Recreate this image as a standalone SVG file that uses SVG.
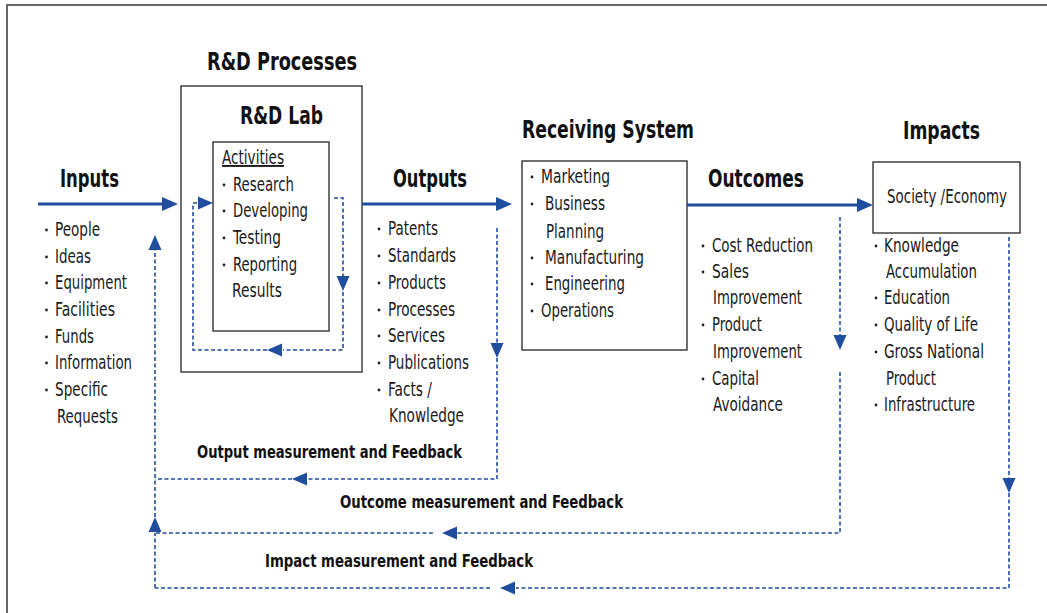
<svg xmlns="http://www.w3.org/2000/svg" xmlns:xlink="http://www.w3.org/1999/xlink" width="1047" height="613" viewBox="0 0 1047 613">
  <style>
    text { font-family: "DejaVu Sans Condensed", "Liberation Sans", sans-serif; font-stretch: condensed; fill: #111; }
    .h { font-size: 24px; font-weight: bold; }
    .fb { font-size: 17px; font-weight: bold; }
    .t { font-size: 19px; fill: #1a1a1a; }
    .dot { fill: #222; }
    .box { fill: #fff; stroke: #333; stroke-width: 1.4; }
    .frame { fill: none; stroke: #666; stroke-width: 2; }
    .flow { fill: none; stroke: #1f4e9e; stroke-width: 3; }
    .fbk { fill: none; stroke: #1f4e9e; stroke-width: 1.6; stroke-dasharray: 4 2.5; }
    .head { fill: #1f4e9e; }
  </style>
  <defs>
    <!-- arrowheads, tip at origin, pointing along +x -->
    <path id="ah" class="head" d="M0,0 L-16,-7 L-16,7 Z"/>
    <path id="ahs" class="head" d="M0,0 L-15,-6.5 L-15,6.5 Z"/>
    <!-- list bullet -->
    <circle id="bul" class="dot" r="1.4"/>
  </defs>

  <rect width="1047" height="613" fill="#fff"/>
  <path class="frame" d="M7,613 V5 H1047"/>

  <!-- R&D processes -->
  <g id="rd-processes">
    <text class="h" x="207" y="70" textLength="150" lengthAdjust="spacingAndGlyphs">R&amp;D Processes</text>
    <rect class="box" x="181" y="86" width="181" height="286"/>
    <text class="h" x="240" y="124" textLength="83" lengthAdjust="spacingAndGlyphs">R&amp;D Lab</text>
  </g>

  <g id="activities">
    <rect class="box" x="213" y="142" width="116" height="189"/>
    <text class="t" x="222" y="164" text-decoration="underline" textLength="62" lengthAdjust="spacingAndGlyphs">Activities</text>
    <use xlink:href="#bul" x="224" y="185"/>
    <text class="t" x="233" y="191" textLength="61" lengthAdjust="spacingAndGlyphs">Research</text>
    <use xlink:href="#bul" x="224" y="211"/>
    <text class="t" x="233" y="217" textLength="75" lengthAdjust="spacingAndGlyphs">Developing</text>
    <use xlink:href="#bul" x="224" y="238"/>
    <text class="t" x="233" y="244" textLength="48" lengthAdjust="spacingAndGlyphs">Testing</text>
    <use xlink:href="#bul" x="224" y="265"/>
    <text class="t" x="233" y="271" textLength="64" lengthAdjust="spacingAndGlyphs">Reporting</text>
    <text class="t" x="232" y="297" textLength="50" lengthAdjust="spacingAndGlyphs">Results</text>
  </g>

  <!-- inputs -->
  <g id="inputs">
    <text class="h" x="60" y="187" textLength="59" lengthAdjust="spacingAndGlyphs">Inputs</text>
    <use xlink:href="#bul" x="46.5" y="230"/>
    <text class="t" x="55" y="236" textLength="45" lengthAdjust="spacingAndGlyphs">People</text>
    <use xlink:href="#bul" x="46.5" y="257"/>
    <text class="t" x="55" y="263" textLength="36" lengthAdjust="spacingAndGlyphs">Ideas</text>
    <use xlink:href="#bul" x="46.5" y="283"/>
    <text class="t" x="55" y="289" textLength="72" lengthAdjust="spacingAndGlyphs">Equipment</text>
    <use xlink:href="#bul" x="46.5" y="310"/>
    <text class="t" x="55" y="316" textLength="60" lengthAdjust="spacingAndGlyphs">Facilities</text>
    <use xlink:href="#bul" x="46.5" y="337"/>
    <text class="t" x="55" y="343" textLength="39" lengthAdjust="spacingAndGlyphs">Funds</text>
    <use xlink:href="#bul" x="46.5" y="363"/>
    <text class="t" x="55" y="369" textLength="77" lengthAdjust="spacingAndGlyphs">Information</text>
    <use xlink:href="#bul" x="46.5" y="390"/>
    <text class="t" x="55" y="396" textLength="53" lengthAdjust="spacingAndGlyphs">Specific</text>
    <text class="t" x="57" y="423" textLength="61" lengthAdjust="spacingAndGlyphs">Requests</text>
  </g>

  <!-- outputs -->
  <g id="outputs">
    <text class="h" x="393" y="187" textLength="74" lengthAdjust="spacingAndGlyphs">Outputs</text>
    <use xlink:href="#bul" x="379" y="229"/>
    <text class="t" x="388" y="235" textLength="50" lengthAdjust="spacingAndGlyphs">Patents</text>
    <use xlink:href="#bul" x="379" y="256"/>
    <text class="t" x="388" y="262" textLength="68" lengthAdjust="spacingAndGlyphs">Standards</text>
    <use xlink:href="#bul" x="379" y="283"/>
    <text class="t" x="388" y="289" textLength="58" lengthAdjust="spacingAndGlyphs">Products</text>
    <use xlink:href="#bul" x="379" y="310"/>
    <text class="t" x="388" y="316" textLength="67" lengthAdjust="spacingAndGlyphs">Processes</text>
    <use xlink:href="#bul" x="379" y="336"/>
    <text class="t" x="388" y="342" textLength="57" lengthAdjust="spacingAndGlyphs">Services</text>
    <use xlink:href="#bul" x="379" y="363"/>
    <text class="t" x="388" y="369" textLength="81" lengthAdjust="spacingAndGlyphs">Publications</text>
    <use xlink:href="#bul" x="379" y="390"/>
    <text class="t" x="388" y="396" textLength="44" lengthAdjust="spacingAndGlyphs">Facts /</text>
    <text class="t" x="389" y="422" textLength="75" lengthAdjust="spacingAndGlyphs">Knowledge</text>
  </g>

  <!-- receiving system -->
  <g id="receiving-system">
    <text class="h" x="522" y="138" textLength="172" lengthAdjust="spacingAndGlyphs">Receiving System</text>
    <rect class="box" x="522" y="161" width="165" height="189"/>
    <use xlink:href="#bul" x="532" y="177"/>
    <text class="t" x="541" y="183" textLength="69" lengthAdjust="spacingAndGlyphs">Marketing</text>
    <use xlink:href="#bul" x="532" y="204"/>
    <text class="t" x="545" y="210" textLength="60" lengthAdjust="spacingAndGlyphs">Business</text>
    <text class="t" x="546" y="238" textLength="58" lengthAdjust="spacingAndGlyphs">Planning</text>
    <use xlink:href="#bul" x="532" y="258"/>
    <text class="t" x="545" y="264" textLength="99" lengthAdjust="spacingAndGlyphs">Manufacturing</text>
    <use xlink:href="#bul" x="532" y="284"/>
    <text class="t" x="545" y="290" textLength="80" lengthAdjust="spacingAndGlyphs">Engineering</text>
    <use xlink:href="#bul" x="532" y="311"/>
    <text class="t" x="541" y="317" textLength="73" lengthAdjust="spacingAndGlyphs">Operations</text>
  </g>

  <!-- outcomes -->
  <g id="outcomes">
    <text class="h" x="708" y="187" textLength="96" lengthAdjust="spacingAndGlyphs">Outcomes</text>
    <use xlink:href="#bul" x="703" y="246"/>
    <text class="t" x="712" y="252" textLength="101" lengthAdjust="spacingAndGlyphs">Cost Reduction</text>
    <use xlink:href="#bul" x="703" y="272"/>
    <text class="t" x="712" y="278" textLength="37" lengthAdjust="spacingAndGlyphs">Sales</text>
    <text class="t" x="713" y="304" textLength="89" lengthAdjust="spacingAndGlyphs">Improvement</text>
    <use xlink:href="#bul" x="703" y="325"/>
    <text class="t" x="712" y="331" textLength="50" lengthAdjust="spacingAndGlyphs">Product</text>
    <text class="t" x="713" y="358" textLength="89" lengthAdjust="spacingAndGlyphs">Improvement</text>
    <use xlink:href="#bul" x="703" y="379"/>
    <text class="t" x="712" y="385" textLength="47" lengthAdjust="spacingAndGlyphs">Capital</text>
    <text class="t" x="713" y="411" textLength="70" lengthAdjust="spacingAndGlyphs">Avoidance</text>
  </g>

  <!-- impacts -->
  <g id="impacts">
    <text class="h" x="903" y="139" textLength="77" lengthAdjust="spacingAndGlyphs">Impacts</text>
    <rect class="box" x="873" y="162" width="147" height="71"/>
    <text class="t" x="887" y="203" textLength="120" lengthAdjust="spacingAndGlyphs">Society /Economy</text>
    <use xlink:href="#bul" x="876" y="246"/>
    <text class="t" x="884" y="252" textLength="75" lengthAdjust="spacingAndGlyphs">Knowledge</text>
    <text class="t" x="886" y="278" textLength="91" lengthAdjust="spacingAndGlyphs">Accumulation</text>
    <use xlink:href="#bul" x="876" y="298"/>
    <text class="t" x="884" y="304" textLength="66" lengthAdjust="spacingAndGlyphs">Education</text>
    <use xlink:href="#bul" x="876" y="325"/>
    <text class="t" x="884" y="331" textLength="94" lengthAdjust="spacingAndGlyphs">Quality of Life</text>
    <use xlink:href="#bul" x="876" y="352"/>
    <text class="t" x="884" y="358" textLength="100" lengthAdjust="spacingAndGlyphs">Gross National</text>
    <text class="t" x="886" y="385" textLength="50" lengthAdjust="spacingAndGlyphs">Product</text>
    <use xlink:href="#bul" x="876" y="405"/>
    <text class="t" x="884" y="411" textLength="91" lengthAdjust="spacingAndGlyphs">Infrastructure</text>
  </g>

  <!-- feedback labels -->
  <g id="feedback-labels">
    <text class="fb" x="197" y="458" textLength="265" lengthAdjust="spacingAndGlyphs">Output measurement and Feedback</text>
    <text class="fb" x="340" y="508" textLength="283" lengthAdjust="spacingAndGlyphs">Outcome measurement and Feedback</text>
    <text class="fb" x="265" y="567" textLength="268" lengthAdjust="spacingAndGlyphs">Impact measurement and Feedback</text>
  </g>

  <!-- connectors -->
  <g id="connectors">
    <!-- main flow -->
    <path class="flow" d="M38,204 H163"/>
    <use xlink:href="#ah" transform="translate(178,204)"/>
    <path class="flow" d="M362,204 H497"/>
    <use xlink:href="#ah" transform="translate(512,204)"/>
    <path class="flow" d="M687,205 H858"/>
    <use xlink:href="#ah" transform="translate(873,205)"/>

    <!-- loop inside the lab -->
    <path class="fbk" d="M334,198 H343 V276"/>
    <use xlink:href="#ahs" transform="translate(343,291) rotate(90)"/>
    <path class="fbk" d="M343,292 V350 H283"/>
    <use xlink:href="#ahs" transform="translate(267,350) rotate(180)"/>
    <path class="fbk" d="M267,350 H193 V203 H198"/>
    <use xlink:href="#ahs" transform="translate(213,203)"/>

    <!-- output feedback -->
    <path class="fbk" d="M497,228 V343"/>
    <use xlink:href="#ahs" transform="translate(497,358) rotate(90)"/>
    <path class="fbk" d="M497,358 V479 H307"/>
    <use xlink:href="#ahs" transform="translate(292,479) rotate(180)"/>
    <path class="fbk" d="M292,479 H155"/>

    <!-- outcome feedback -->
    <path class="fbk" d="M840,217 V335"/>
    <use xlink:href="#ahs" transform="translate(840,350) rotate(90)"/>
    <path class="fbk" d="M840,372 V533 H457"/>
    <use xlink:href="#ahs" transform="translate(442,533) rotate(180)"/>
    <path class="fbk" d="M433,533 H155"/>

    <!-- impact feedback -->
    <path class="fbk" d="M1009,237 V478"/>
    <use xlink:href="#ahs" transform="translate(1009,493) rotate(90)"/>
    <path class="fbk" d="M1009,493 V588 H516"/>
    <use xlink:href="#ahs" transform="translate(500,588) rotate(180)"/>
    <path class="fbk" d="M490,588 H155"/>

    <!-- shared return to inputs -->
    <path class="fbk" d="M155,588 V533"/>
    <use xlink:href="#ahs" transform="translate(155,517) rotate(-90)"/>
    <path class="fbk" d="M155,517 V250"/>
    <use xlink:href="#ahs" transform="translate(155,235) rotate(-90)"/>
  </g>
</svg>
